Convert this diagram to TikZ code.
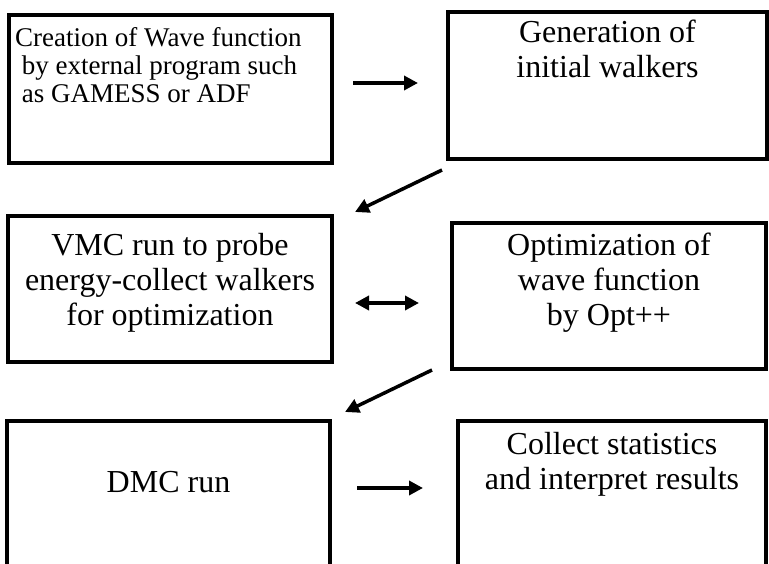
\documentclass[tikz,border=0pt]{standalone}
\usepackage{fontspec}
\setmainfont{Liberation Serif}
\usepackage{tikz}
\usetikzlibrary{positioning, arrows.meta}

\begin{document}
\begin{tikzpicture}[x=1pt, y=-1pt, >={Triangle[length=14pt, width=14pt]},
	box/.style={draw, line width=3.5pt, inner sep=0pt, outer sep=0pt},
	txt/.style={inner sep=0pt, align=center, font=\fontsize{32}{35}\selectfont},
	flow/.style={->, line width=3.5pt}]
	\clip (0, 0) rectangle (769, 564);
	\node[box, minimum width=323pt, minimum height=148pt] (b1) at (170.5, 89) {};
	\node[box, minimum width=319pt, minimum height=147pt] (b2) at (607.5, 85.5) {};
	\node[box, minimum width=324pt, minimum height=146pt] (b3) at (170, 289) {};
	\node[box, minimum width=314pt, minimum height=146pt] (b4) at (609, 296) {};
	\node[box, minimum width=323pt, minimum height=150pt] (b5) at (168.5, 496) {};
	\node[box, minimum width=308pt, minimum height=150pt] (b6) at (612, 496) {};
	\node[txt, align=left, font=\fontsize{27}{28}\selectfont, below right=12pt and 6pt of b1.north west] (t1)
		{Creation of Wave function\\\hspace*{.25em}by external program such\\\hspace*{.25em}as GAMESS or ADF};
	\node[txt, below=8pt of b2.north] (t2) {Generation of\\initial walkers};
	\node[txt, below=17pt of b3.north] (t3) {VMC run to probe\\energy-collect walkers\\for optimization};
	\node[txt, below=10pt of b4.north] (t4) {Optimization of\\wave function\\by Opt++};
	\node[txt, below=50pt of b5.north] (t5) {DMC run};
	\node[txt, below=11pt of b6.north] (t6) {Collect statistics\\and interpret results};
	\draw[flow, shorten <=21pt, shorten >=30pt] ([yshift=6pt]b1.east) -- ([yshift=6pt]b1.east -| b2.west);
	\draw[flow] ([shift={(-6, 11)}]b2.south west) -- ([shift={(23, -4)}]b3.north east);
	\draw[flow, <->, shorten <=23pt, shorten >=33pt] ([yshift=-14pt]b3.east) -- ([yshift=-14pt]b3.east -| b4.west);
	\draw[flow] ([shift={(-20, 1)}]b4.south west) -- ([shift={(15, -9)}]b5.north east);
	\draw[flow, shorten <=27pt, shorten >=35pt] ([yshift=8pt]b5.east) -- ([yshift=8pt]b5.east -| b6.west);
\end{tikzpicture}
\end{document}
